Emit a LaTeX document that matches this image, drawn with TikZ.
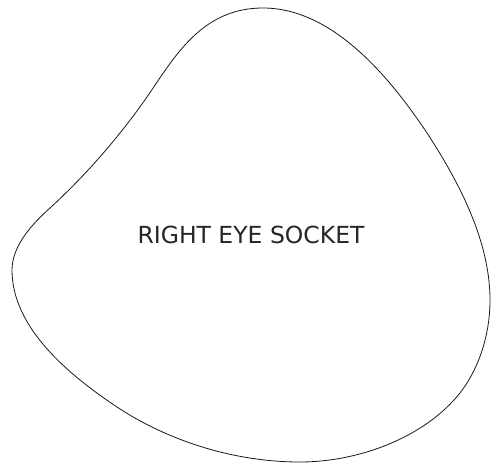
\documentclass[tikz,border=0pt]{standalone}
\usepackage{fontspec}
\setmainfont{DejaVu Sans}
\usepackage{tikz}
\tikzset{
  socket/.style={line width=0.8pt,black!90},
  lbl/.style={font=\fontsize{23.5}{28}\selectfont,text=black!85}
}

\begin{document}
\begin{tikzpicture}[x=1pt,y=-1pt]
\useasboundingbox (0,0) rectangle (500,463);
% outline of the socket
\draw[socket] (263,8) .. controls (202,8) and (175,56) .. (147,97)
  .. controls (119,137) and (86,175) .. (50,208)
  .. controls (32,224) and (12,246) .. (12,270)
  .. controls (12,328) and (69,375) .. (117,407)
  .. controls (170,442) and (236,462) .. (300,462)
  .. controls (358,462) and (424,438) .. (460,393)
  .. controls (480,367) and (490,333) .. (490,300)
  .. controls (490,241) and (459,182) .. (427,133)
  .. controls (389,76) and (332,8) .. cycle;
\node[lbl] (label) at (251,235) {RIGHT EYE SOCKET};
\end{tikzpicture}
\end{document}
